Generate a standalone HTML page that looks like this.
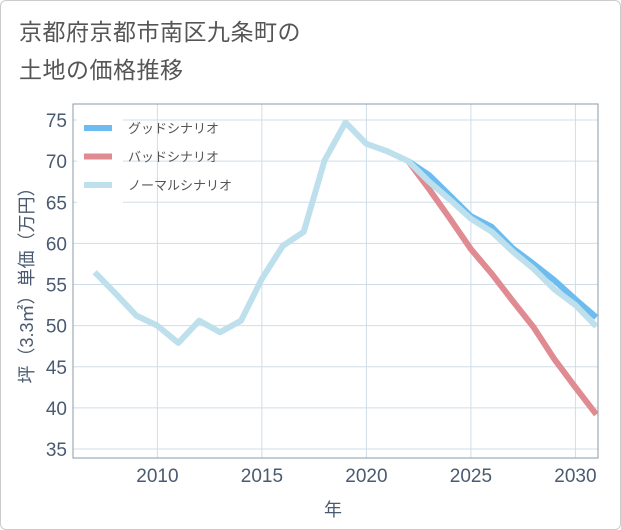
<!DOCTYPE html>
<html><head><meta charset="utf-8"><style>
body{margin:0;background:#fff;font-family:"Liberation Sans","Noto Sans CJK JP",sans-serif;}
#wrap{position:relative;width:619px;height:528px;border:1px solid #ccc;border-radius:6px;overflow:hidden;background:#fff}
#title{position:absolute;left:18px;top:12px;font-size:23px;line-height:38px;color:#555;letter-spacing:0.5px}
svg{position:absolute;left:0;top:0}
</style></head><body>
<div id="wrap">
<div id="title">京都府京都市南区九条町の<br>土地の価格推移</div>
<svg id="chart" width="621" height="530"></svg>
</div>
<script>
const years=[2007,2008,2009,2010,2011,2012,2013,2014,2015,2016,2017,2018,2019,2020,2021,2022,2023,2024,2025,2026,2027,2028,2029,2030,2031];
const normalVals=[56.5,53.9,51.2,50.0,47.9,50.6,49.2,50.6,55.7,59.7,61.4,70.1,74.7,72.1,71.2,70.0,67.5,65.3,63.0,61.4,59.0,56.9,54.4,52.5,49.9];
const goodYears=[2022,2023,2024,2025,2026,2027,2028,2029,2030,2031];
const goodVals=[70.0,68.3,65.8,63.3,62.0,59.4,57.5,55.5,53.2,51.0];
const badVals=[70.0,66.6,63.0,59.3,56.3,53.0,49.8,45.9,42.5,39.2];
const yTicks=[35,40,45,50,55,60,65,70,75];
const xTicks=[2010,2015,2020,2025,2030];
const legendLabels=["グッドシナリオ","バッドシナリオ","ノーマルシナリオ"];
const NS="http://www.w3.org/2000/svg";
const svg=document.getElementById('chart');
const L=72,R=597,T=103,B=457;
const x=v=>156.4+(v-2010)*20.9;
const y=v=>119+(75-v)*8.225;
function mk(tag,attrs,parent){const e=document.createElementNS(NS,tag);for(const k in attrs)e.setAttribute(k,attrs[k]);(parent||svg).appendChild(e);return e;}
const grid=mk('g',{});


yTicks.forEach(t=>{
 const l=mk('line',{x1:L,x2:R,y1:y(t),y2:y(t),stroke:'#cfdde8','stroke-width':1},grid);
 
 
 const tx=mk('text',{x:L-6,y:y(t)+7,'text-anchor':'end','font-size':19,fill:'#4a5a70'});
 tx.textContent=t;
 
 
});
xTicks.forEach(t=>{
 const l=mk('line',{x1:x(t),x2:x(t),y1:T,y2:B,stroke:'#cfdde8','stroke-width':1},grid);
 
 
 const tx=mk('text',{x:x(t),y:B+24,'text-anchor':'middle','font-size':19,fill:'#4a5a70'});
 tx.textContent=t;
 
 
});
const frame=mk('rect',{x:L,y:T,width:R-L,height:B-T,fill:'none',stroke:'#8898a8','stroke-width':1});


const clip=mk('clipPath',{id:'cp'});mk('rect',{x:L,y:T,width:R-L,height:B-T},clip);
function line(xs,vs,color,name){
 const p=mk('polyline',{points:xs.map((v,i)=>x(v)+','+y(vs[i])).join(' '),fill:'none',stroke:color,'stroke-width':6,'stroke-linejoin':'round','clip-path':'url(#cp)'});
 
 
}
line(goodYears,goodVals,'#6cbcf0','good-scenario-line');
line(goodYears,badVals,'#e08a92','bad-scenario-line');
line(years,normalVals,'#bde0ec','normal-scenario-line');
const lg=mk('g',{});


mk('rect',{x:76,y:108,width:46,height:94,fill:'#fff'},lg);
const lc=['#6cbcf0','#e08a92','#bde0ec'];
legendLabels.forEach((s,i)=>{
 const yy=127+i*28.5;
 const sw=mk('line',{x1:83,x2:111,y1:yy,y2:yy,stroke:lc[i],'stroke-width':6},lg);
 
 
 const t=mk('text',{x:127,y:yy+5,'font-size':13,fill:'#555'},lg);
 t.textContent=s;
 
 
});
const xt=mk('text',{x:332,y:515,'text-anchor':'middle','font-size':18,fill:'#4a5a70'});
xt.textContent='年';


const yt=mk('text',{x:0,y:0,'text-anchor':'middle','font-size':18,fill:'#4a5a70',transform:'translate(32,280) rotate(-90)'});
yt.textContent='坪（3.3㎡）単価（万円）';


</script>
</body></html>
